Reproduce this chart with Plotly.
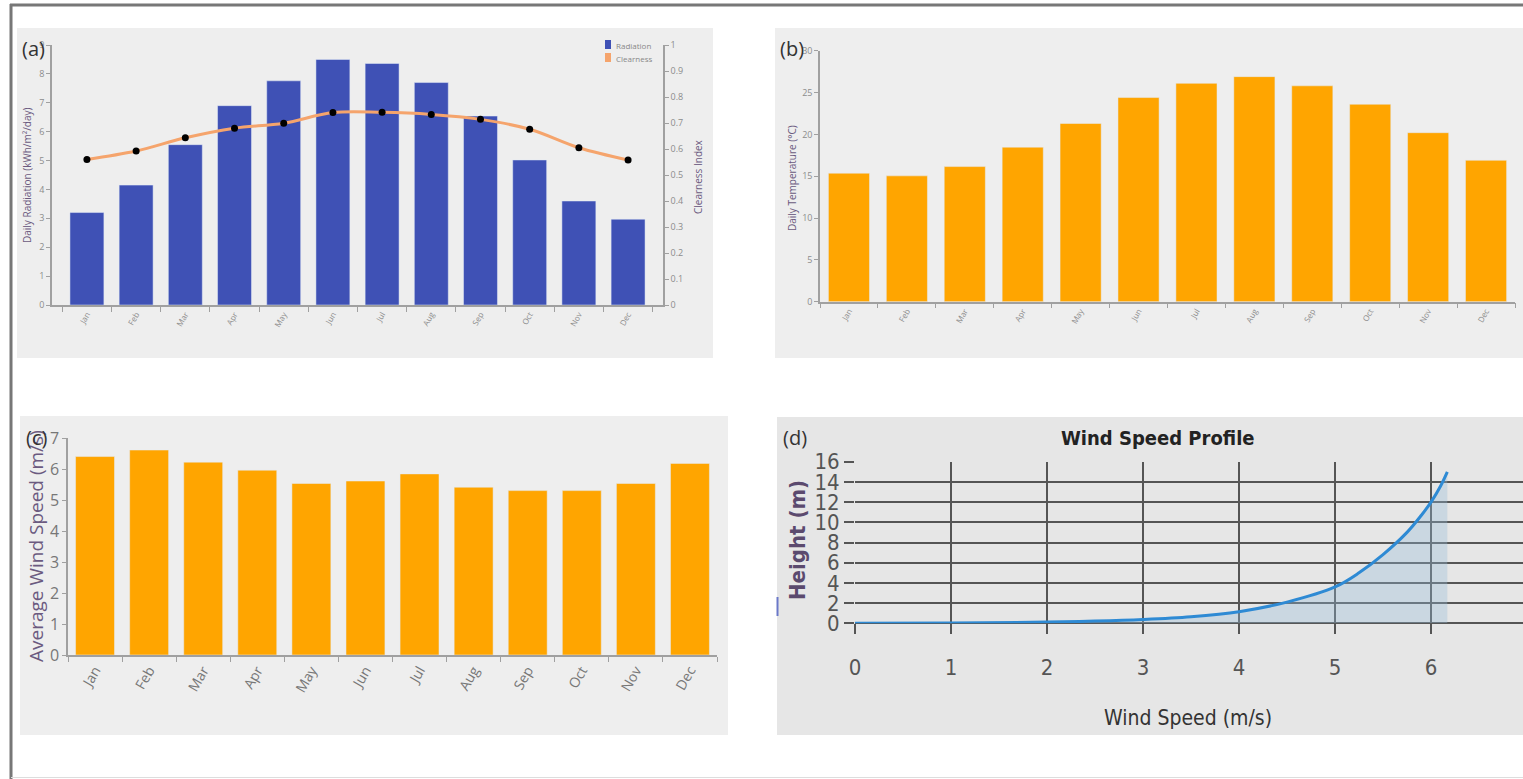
import plotly.graph_objects as go

# ---------------- data ----------------
months = ["Jan", "Feb", "Mar", "Apr", "May", "Jun", "Jul", "Aug", "Sep", "Oct", "Nov", "Dec"]
radiation = [3.2, 4.15, 5.55, 6.9, 7.76, 8.5, 8.36, 7.7, 6.54, 5.02, 3.6, 2.97]
clearness = [0.56, 0.592, 0.643, 0.68, 0.699, 0.74, 0.741, 0.733, 0.714, 0.676, 0.605, 0.558]
temperature = [15.36, 15.04, 16.15, 18.47, 21.3, 24.4, 26.1, 26.9, 25.8, 23.6, 20.2, 16.9]
wind_avg = [6.41, 6.62, 6.23, 5.97, 5.54, 5.62, 5.85, 5.42, 5.31, 5.31, 5.54, 6.19]
profile_speed = [0, 1, 2, 2.5, 3, 3.5, 4, 4.5, 5, 5.25, 5.5, 5.75, 5.9, 6.0, 6.1, 6.17]
profile_height = [0, 0.03, 0.12, 0.22, 0.38, 0.65, 1.15, 2.1, 3.6, 5.0, 6.8, 9.0, 10.7, 12.0, 13.6, 15.0]

W, H = 1523, 779


def px(x):
    return x / W


def py(y):
    return 1 - y / H


TICK_GRAY = "#8c8c8c"
AX_GRAY = "#a0a0a0"
TITLE_PURPLE = "#6b5a80"

fig = go.Figure()

# (a) radiation bars + clearness line
fig.add_trace(go.Bar(x=months, y=radiation, name="Radiation", marker_color="#3F51B5",
                     width=0.69, xaxis="x", yaxis="y", showlegend=False))
fig.add_trace(go.Scatter(x=months, y=clearness, name="Clearness", xaxis="x", yaxis="y2",
                         mode="lines+markers", line=dict(color="#F5A46C", width=3, shape="spline"),
                         marker=dict(color="black", size=7), showlegend=False))
# (b) temperature
fig.add_trace(go.Bar(x=months, y=temperature, marker_color="#FFA500", width=0.71,
                     xaxis="x3", yaxis="y3", showlegend=False))
# (c) wind speed
fig.add_trace(go.Bar(x=months, y=wind_avg, marker_color="#FFA500", width=0.72,
                     xaxis="x4", yaxis="y4", showlegend=False))
# (d) wind profile
fig.add_trace(go.Scatter(x=profile_speed, y=profile_height, xaxis="x5", yaxis="y5",
                         mode="lines", fill="tozeroy", fillcolor="rgba(150,185,215,0.35)",
                         line=dict(color="#2E8AD4", width=3, shape="spline", smoothing=1.0),
                         showlegend=False))

small_cat = dict(type="category", tickangle=-60, showline=True, linecolor=AX_GRAY, linewidth=1.5,
                 ticks="outside", tickson="boundaries", ticklen=5, tickcolor=AX_GRAY,
                 showgrid=False, zeroline=False, automargin=False)
small_val = dict(showline=True, linecolor=AX_GRAY, linewidth=1.5, ticks="outside", ticklen=4,
                 tickcolor=AX_GRAY, showgrid=False, zeroline=False, automargin=False)

narrow = "Liberation Sans Narrow, DejaVu Sans Condensed, sans-serif"

fig.update_layout(
    width=W, height=H, autosize=False, margin=dict(l=0, r=0, t=0, b=0, pad=0, autoexpand=False),
    paper_bgcolor="white", plot_bgcolor="rgba(0,0,0,0)",
    font=dict(family="Open Sans, DejaVu Sans, sans-serif"),
    showlegend=False,
    xaxis=dict(domain=[px(52), px(663)], anchor="y",
               tickfont=dict(size=8, color=TICK_GRAY), **small_cat),
    yaxis=dict(domain=[py(305), py(45)], anchor="x", range=[0, 9], dtick=1,
               tickfont=dict(size=9, color=TICK_GRAY), **small_val),
    yaxis2=dict(overlaying="y", side="right", anchor="x", range=[0, 1], dtick=0.1,
                tickfont=dict(size=9, color=TICK_GRAY), **small_val),
    xaxis3=dict(domain=[px(820), px(1515)], anchor="y3",
                tickfont=dict(size=8, color=TICK_GRAY), **small_cat),
    yaxis3=dict(domain=[py(301.7), py(50.7)], anchor="x3", range=[0, 30], dtick=5,
                tickfont=dict(size=9, color=TICK_GRAY), **small_val),
    xaxis4=dict(domain=[px(68), px(717)], anchor="y4",
                tickfont=dict(size=14, color="#777777"), **small_cat),
    yaxis4=dict(domain=[py(655), py(438.3)], anchor="x4", range=[0, 7], dtick=1,
                tickfont=dict(size=16, color="#777777"), **small_val),
    xaxis5=dict(domain=[px(855), 1], anchor="y5", range=[0, (W - 855) / 96], dtick=1,
                showgrid=True, gridcolor="#555555", gridwidth=2, zeroline=False, automargin=False,
                showline=False, ticks="outside", ticklen=10, tickwidth=2, tickcolor="#555555",
                ticklabelstandoff=14,
                tickfont=dict(size=22, color="#555555", family=narrow)),
    yaxis5=dict(domain=[py(623.3), py(461.7)], anchor="x5", range=[0, 16], dtick=2,
                showgrid=True, gridcolor="#555555", gridwidth=2, zeroline=True, automargin=False,
                zerolinecolor="#555555", zerolinewidth=2,
                showline=False, ticks="outside", ticklen=10, tickwidth=2, tickcolor="#555555",
                tickfont=dict(size=22, color="#555555", family=narrow)),
)

shapes = []
# panel backgrounds
for (x0, y0, x1, y1, c) in [(17, 28, 713, 358, "#EEEEEE"), (775, 28, W, 358, "#EEEEEE"),
                            (20, 416, 728, 735, "#EEEEEE"), (777, 417, W, 735, "#E6E6E6")]:
    shapes.append(dict(type="rect", xref="paper", yref="paper", x0=px(x0), x1=px(x1),
                       y0=py(y1), y1=py(y0), fillcolor=c, line=dict(width=0), layer="below"))
# outer frame
shapes.append(dict(type="line", xref="paper", yref="paper", x0=px(11), x1=px(11), y0=0, y1=py(4),
                   line=dict(color="#777777", width=3)))
shapes.append(dict(type="line", xref="paper", yref="paper", x0=px(10), x1=1, y0=py(5), y1=py(5),
                   line=dict(color="#777777", width=3)))
shapes.append(dict(type="line", xref="paper", yref="paper", x0=px(11), x1=1, y0=py(777.5), y1=py(777.5),
                   line=dict(color="#dddddd", width=1)))
# small blue mark at the left edge of panel (d)
shapes.append(dict(type="line", xref="paper", yref="paper", x0=px(777.5), x1=px(777.5), y0=py(616), y1=py(597),
                   line=dict(color="#6a78c8", width=2)))
# legend squares (a)
shapes.append(dict(type="rect", xref="paper", yref="paper", x0=px(605), x1=px(611), y0=py(49), y1=py(40),
                   fillcolor="#3F51B5", line=dict(width=0)))
shapes.append(dict(type="rect", xref="paper", yref="paper", x0=px(605), x1=px(611), y0=py(62), y1=py(53),
                   fillcolor="#F5A46C", line=dict(width=0)))
fig.update_layout(shapes=shapes)

ann = []


def add_text(x, y, text, size, color, angle=0, bold=False, family=None, xanchor="center"):
    ann.append(dict(x=px(x), y=py(y), xref="paper", yref="paper", text=f"<b>{text}</b>" if bold else text,
                    showarrow=False, textangle=angle, xanchor=xanchor, yanchor="middle",
                    font=dict(size=size, color=color, family=family or "Open Sans, DejaVu Sans, sans-serif")))


# axis titles
add_text(27, 175, "Daily Radiation (kWh/m²/day)", 10, TITLE_PURPLE, angle=-90)
add_text(698, 177, "Clearness Index", 10, TITLE_PURPLE, angle=-90)
add_text(792, 178, "Daily Temperature (°C)", 10, TITLE_PURPLE, angle=-90)
add_text(36, 546, "Average Wind Speed (m/s)", 19, TITLE_PURPLE, angle=-90)
add_text(797, 540, "Height (m)", 22, "#5b4a6e", angle=-90, bold=True, family=narrow)
add_text(1188, 718, "Wind Speed (m/s)", 21, "#333333", family=narrow)
add_text(1158, 438, "Wind Speed Profile", 20, "#222222", bold=True, family=narrow)
# legend text (a)
add_text(614, 45, "Radiation", 8, "#888888", xanchor="left")
add_text(614, 58, "Clearness", 8, "#888888", xanchor="left")
# panel labels (drawn last, on top)
add_text(33, 48, "(a)", 20, "#333333")
add_text(792, 48, "(b)", 20, "#333333")
add_text(36, 437, "(c)", 20, "#333333")
add_text(795, 437, "(d)", 20, "#333333")
fig.update_layout(annotations=ann)

fig.write_html("out.html", config={"responsive": False, "displayModeBar": False},
               post_script="document.body.style.margin='0';document.body.style.padding='0';")
